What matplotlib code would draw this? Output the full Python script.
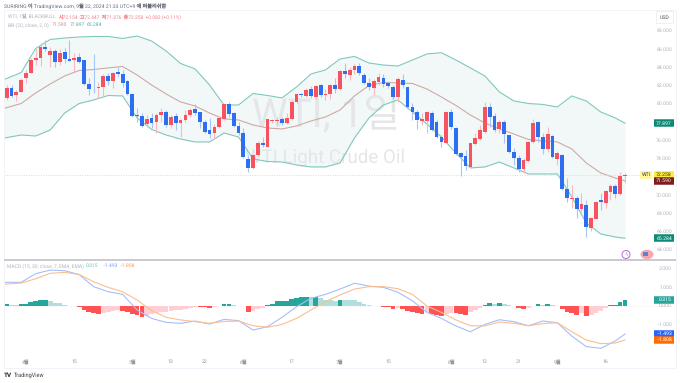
import matplotlib
matplotlib.use("Agg")
import matplotlib.pyplot as plt
from matplotlib.patches import Rectangle, Ellipse

plt.rcParams["font.family"] = ["Roboto", "Noto Sans CJK KR", "DejaVu Sans"]
plt.rcParams["text.hinting"] = "no_hinting"

# WTI daily candles
opens = [80.62, 81.79, 80.98, 81.28, 82.81, 83.43, 84.82, 85.08, 86.24, 85.37,
         85.81, 84.64, 85.73, 84.93, 84.86, 85.11, 84.78, 82.23, 81.86, 81.79,
         81.86, 83.10, 82.48, 83.50, 83.25, 82.48, 81.10, 78.79, 78.68, 77.77,
         78.47, 77.99, 78.83, 79.16, 77.70, 78.68, 77.95, 78.25, 78.79, 79.42,
         79.12, 78.03, 77.11, 76.79, 77.48, 78.32, 80.00, 79.05, 77.59, 76.79,
         74.00, 72.95, 74.41, 75.76, 75.32, 78.17, 78.17, 78.32, 77.88, 78.32,
         80.25, 81.09, 80.87, 81.60, 80.73, 82.04, 81.02, 81.06, 82.12, 81.64,
         83.58, 83.14, 83.69, 84.20, 83.21, 82.34, 81.72, 82.38, 82.90, 82.27,
         81.90, 80.73, 82.63, 81.90, 79.70, 79.12, 78.18, 78.17, 79.05, 78.00,
         76.42, 75.75, 79.13, 77.34, 74.60, 74.30, 73.14, 75.62, 76.13, 76.90,
         79.71, 78.69, 77.23, 78.06, 76.60, 74.77, 74.12, 72.84, 73.75, 75.87,
         78.02, 76.42, 75.03, 76.49, 73.97, 74.41, 70.65, 69.59, 69.73, 68.45,
         68.93, 66.44, 67.39, 69.48, 69.11, 70.39, 71.00, 70.10, 72.154]
closes = [81.72, 80.91, 81.35, 82.63, 83.43, 84.82, 85.08, 86.24, 85.99, 85.81,
          84.56, 85.55, 84.93, 84.75, 85.04, 84.64, 82.15, 81.64, 81.82, 81.90,
          83.10, 82.48, 83.40, 83.25, 82.30, 81.06, 78.68, 78.65, 77.63, 78.32,
          77.88, 78.76, 79.09, 77.66, 78.61, 77.88, 78.25, 78.79, 79.34, 78.98,
          77.99, 76.97, 76.68, 77.52, 78.43, 79.96, 78.87, 77.59, 76.86, 74.15,
          72.95, 74.41, 75.76, 75.47, 78.32, 78.25, 78.25, 77.88, 78.43, 80.25,
          81.09, 80.95, 81.53, 80.87, 81.97, 80.98, 81.13, 82.04, 81.64, 83.58,
          83.32, 83.72, 84.20, 83.36, 82.26, 81.86, 82.48, 82.99, 82.16, 82.00,
          80.73, 82.71, 82.08, 79.64, 79.09, 78.25, 78.32, 79.16, 77.15, 76.42,
          75.80, 79.16, 77.45, 74.52, 74.16, 73.20, 75.69, 76.31, 77.15, 79.71,
          78.62, 77.15, 78.06, 76.67, 74.77, 74.12, 72.84, 73.86, 75.87, 77.88,
          76.42, 75.03, 76.71, 74.23, 74.59, 70.65, 69.66, 69.73, 68.45, 69.04,
          66.48, 67.47, 69.30, 69.26, 70.50, 71.00, 70.13, 72.11, 72.258]
highs = [82.08, 82.08, 81.53, 82.81, 83.72, 85.00, 86.10, 86.65, 87.01, 86.28,
         86.03, 86.03, 86.10, 87.01, 85.55, 85.55, 84.82, 82.81, 85.44, 82.45,
         83.25, 83.36, 83.47, 84.09, 83.72, 82.63, 81.20, 79.52, 78.98, 78.79,
         78.98, 78.98, 79.52, 79.34, 78.79, 78.98, 78.32, 79.34, 79.52, 80.00,
         79.16, 78.25, 78.43, 77.81, 78.54, 80.00, 80.26, 79.16, 78.06, 77.33,
         74.41, 74.50, 75.90, 76.35, 78.40, 78.39, 78.54, 78.61, 78.97, 80.44,
         81.24, 81.24, 81.72, 81.97, 82.08, 82.19, 81.60, 82.19, 82.80, 83.72,
         84.53, 84.02, 84.38, 84.53, 83.36, 82.81, 82.70, 83.36, 83.30, 82.50,
         82.08, 82.93, 83.29, 81.90, 80.08, 79.35, 78.98, 79.27, 79.27, 78.25,
         76.60, 79.27, 79.42, 77.45, 74.78, 74.96, 75.77, 76.79, 77.70, 80.26,
         80.15, 78.98, 78.25, 78.24, 76.60, 75.14, 74.41, 74.12, 75.98, 78.32,
         78.17, 76.78, 77.44, 76.60, 74.88, 74.52, 71.85, 71.12, 69.92, 70.21,
         69.48, 67.65, 69.40, 70.21, 70.57, 71.23, 71.23, 72.58, 72.447]
lows = [80.44, 80.80, 80.33, 81.28, 82.26, 83.36, 84.27, 84.20, 85.84, 84.09,
        84.09, 84.27, 84.45, 84.71, 83.54, 84.45, 82.08, 80.98, 81.17, 80.62,
        80.80, 82.08, 81.79, 83.00, 81.90, 80.98, 78.60, 78.06, 77.52, 77.52,
        77.33, 76.79, 78.06, 77.52, 77.33, 77.15, 76.35, 78.06, 78.61, 78.79,
        77.33, 76.86, 76.24, 76.13, 77.33, 78.25, 78.61, 77.52, 76.60, 74.08,
        72.59, 72.90, 74.30, 75.32, 75.30, 77.88, 77.70, 77.70, 77.80, 78.25,
        80.07, 80.80, 80.73, 80.62, 80.51, 80.80, 80.44, 80.51, 81.17, 81.53,
        82.81, 82.63, 83.29, 83.18, 82.19, 81.53, 80.98, 82.08, 81.90, 81.70,
        80.55, 80.26, 81.72, 79.53, 78.25, 77.23, 77.70, 76.80, 77.08, 76.30,
        75.26, 75.69, 77.23, 74.41, 72.12, 72.77, 73.06, 75.51, 76.06, 76.79,
        77.52, 76.97, 76.80, 75.69, 74.59, 73.31, 72.58, 72.47, 73.68, 75.76,
        75.87, 74.52, 74.77, 74.04, 73.31, 70.57, 69.29, 68.56, 67.47, 68.20,
        65.46, 66.12, 67.36, 68.38, 68.56, 69.48, 69.66, 70.00, 71.376]

# indicator lines
line_bars = [-1, 3, 6, 9, 12, 15, 18, 21, 24, 27, 30, 33, 36, 39, 42, 45, 48, 51, 54, 57, 60, 63,
             66, 69, 72, 75, 78, 81, 84, 87, 90, 93, 96, 99, 102, 105, 108, 111, 114, 117, 120,
             123, 126, 128]
bb_upper = [82.58, 83.45, 86.08, 87.07, 87.23, 87.34, 87.40, 87.40, 87.18, 87.45, 86.90,
            85.81, 84.44, 83.84, 82.08, 79.89, 79.89, 81.15, 80.93, 80.66, 81.86, 83.29,
            83.73, 84.93, 85.21, 84.49, 84.27, 84.16, 84.82, 85.48, 85.62, 84.82, 83.95,
            83.07, 81.32, 80.33, 80.05, 79.95, 79.67, 80.88, 80.33, 79.12, 78.47, 77.897]
bb_mid = [79.45, 80.05, 81.21, 82.19, 83.07, 83.67, 83.78, 83.95, 84.11, 83.18, 82.08,
          81.10, 80.22, 79.78, 79.01, 78.36, 78.25, 77.70, 77.37, 77.26, 77.59, 78.14,
          78.58, 79.34, 80.88, 82.03, 82.36, 82.30, 82.25, 81.64, 80.77, 79.84, 78.79,
          77.92, 77.26, 76.71, 76.11, 75.95, 75.84, 75.07, 73.53, 72.44, 71.89, 71.59]
bb_lower = [76.22, 76.60, 76.49, 77.15, 79.01, 80.05, 80.44, 80.93, 80.88, 78.47, 77.21,
            76.60, 76.16, 75.84, 75.84, 76.82, 76.38, 73.97, 73.70, 73.64, 73.32, 73.10,
            73.10, 73.53, 76.27, 78.47, 79.89, 80.44, 79.12, 77.81, 76.38, 74.63, 72.99,
            73.10, 73.64, 72.99, 72.33, 72.33, 72.33, 69.81, 66.96, 65.75, 65.42, 65.284]
macd_line = [1.26, 1.26, 1.72, 1.91, 1.88, 1.67, 1.03, 0.76, 0.62, -0.21, -0.66, -0.87,
             -0.92, -0.80, -0.96, -0.71, -0.78, -1.28, -1.10, -0.60, -0.04, 0.41, 0.62,
             0.90, 1.21, 1.06, 0.99, 0.73, 0.28, -0.34, -0.66, -1.06, -1.37, -0.98, -0.73,
             -0.83, -1.05, -0.80, -0.89, -1.60, -2.16, -2.25, -1.86, -1.493]
signal_line = [1.15, 1.22, 1.45, 1.74, 1.79, 1.68, 1.29, 0.99, 0.76, 0.32, -0.25, -0.60,
               -0.74, -0.83, -0.92, -0.82, -0.80, -1.05, -1.13, -0.98, -0.66, -0.21, 0.23,
               0.59, 0.90, 1.03, 1.03, 0.92, 0.62, 0.00, -0.34, -0.74, -1.05, -1.06, -0.85,
               -0.92, -1.05, -0.94, -0.89, -1.37, -1.81, -2.00, -1.97, -1.808]
macd_hist = [0.11, 0.05, 0.035, 0.09, 0.12, 0.20, 0.25, 0.30, 0.31, 0.25,
             0.18, 0.14, 0.07, 0.02, -0.02, -0.05, -0.21, -0.34, -0.39, -0.43,
             -0.35, -0.32, -0.27, -0.21, -0.25, -0.32, -0.44, -0.50, -0.58, -0.51,
             -0.44, -0.39, -0.34, -0.30, -0.27, -0.23, -0.20, -0.14, -0.09, -0.03,
             -0.04, -0.05, -0.11, -0.05, -0.02, 0.09, 0.12, 0.05, 0.02, -0.02,
             -0.30, -0.25, -0.18, -0.09, 0.03, 0.12, 0.25, 0.26, 0.27, 0.37,
             0.44, 0.46, 0.48, 0.46, 0.48, 0.41, 0.34, 0.30, 0.29, 0.33,
             0.32, 0.31, 0.30, 0.23, 0.12, 0.05, 0.02, -0.02, -0.04, -0.05,
             -0.16, -0.12, -0.16, -0.27, -0.32, -0.39, -0.43, -0.34, -0.44, -0.48,
             -0.51, -0.42, -0.38, -0.39, -0.44, -0.48, -0.34, -0.23, -0.12, 0.05,
             0.16, 0.09, 0.16, 0.12, 0.05, 0.01, -0.12, -0.18, -0.09, 0.02,
             0.09, 0.05, 0.12, 0.04, -0.01, -0.16, -0.30, -0.37, -0.46, -0.35,
             -0.55, -0.48, -0.35, -0.27, -0.12, 0.04, 0.07, 0.21, 0.315]

date_bars = [4, 14, 26, 34, 41, 49, 59, 69, 79, 92, 99, 106, 114, 124]
date_labels = ["4월", "15", "5월", "13", "22", "6월", "17", "7월", "15", "8월", "12", "21", "9월", "16"]
price_ticks = [64, 66, 68, 70, 74, 76, 80, 82, 84, 86, 88]
macd_ticks = [2, 1, 0, -1]

W, H = 680, 383
UP, DOWN = "#f7525f", "#2e6ff2"
UP_WICK, DOWN_WICK = "#f8b9bf", "#a9c4f8"
LABEL = "#b2b5be"
XLIM = (-0.56, 138.57)
TICK_SIZE = 3.7


def px_axes(left, top, right, bottom):
    return fig.add_axes([left / W, 1 - bottom / H, (right - left) / W, (bottom - top) / H])


def tag(ax, y, text, bg, fg="white"):
    ax.text(0.994, y, text, transform=ax.get_yaxis_transform(), ha="right", va="center",
            fontsize=TICK_SIZE, color=fg, zorder=10, clip_on=False)
    ax.plot([0.9673, 0.997], [y, y], transform=ax.get_yaxis_transform(), color=bg, lw=5.4,
            solid_capstyle="butt", zorder=9, clip_on=False)


fig = plt.figure(figsize=(W / 100, H / 100), dpi=100, facecolor="white")

# price panel
ax = px_axes(4, 10, 676, 259)
ax.set_xlim(*XLIM)
ax.set_ylim(63.01, 90.30)
ax.fill_between(line_bars, bb_lower, bb_upper, color="#f2f8f8", lw=0, zorder=1)
ax.plot(line_bars, bb_upper, color="#80c8bd", lw=0.8, zorder=2)
ax.plot(line_bars, bb_lower, color="#80c8bd", lw=0.8, zorder=2)
ax.plot(line_bars, bb_mid, color="#cfa9a4", lw=0.8, zorder=2)
ax.axhline(closes[-1], color="#f7e463", lw=0.7, ls=(0, (1, 1.5)), zorder=2)

for i in range(len(opens)):
    rising = closes[i] >= opens[i]
    ax.vlines(i, lows[i], highs[i], color=UP_WICK if rising else DOWN_WICK, lw=0.8, zorder=3)
    bottom = min(opens[i], closes[i])
    ax.bar(i, max(abs(closes[i] - opens[i]), 0.08), 0.78, bottom, color=UP if rising else DOWN,
           lw=0, zorder=4)

# watermark
ax.text(0.369, 0.574, "WTI, 1일", transform=ax.transAxes, fontsize=29, color="#e4e6e8",
        ha="left", va="center", zorder=1.5)
ax.text(0.359, 0.405, "WTI Light Crude Oil", transform=ax.transAxes, fontsize=13.5, color="#e4e6e8",
        ha="left", va="center", zorder=1.5)

for p in price_ticks:
    ax.text(0.994, p, f"{p:.3f}", transform=ax.get_yaxis_transform(), ha="right", va="center",
            fontsize=TICK_SIZE, color=LABEL)
ax.set_xticks([])
ax.set_yticks([])
for s in ax.spines.values():
    s.set_visible(False)

tag(ax, bb_upper[-1], f"{bb_upper[-1]:.3f}", "#0c8a75")
tag(ax, bb_lower[-1], f"{bb_lower[-1]:.3f}", "#0c8a75")
tag(ax, closes[-1], f"{closes[-1]:.3f}", "#ffeb3b", "#333333")
tag(ax, bb_mid[-1], f"{bb_mid[-1]:.3f}", "#7f1d1d")
ax.text(0.9555, closes[-1], "WTI", transform=ax.get_yaxis_transform(), ha="center", va="center",
        fontsize=TICK_SIZE, color="#333333", zorder=11, clip_on=False,
        bbox=dict(fc="#fff59d", ec="none", pad=1.2))

# macd panel
ax2 = px_axes(4, 261, 676, 354)
ax2.set_xlim(*XLIM)
ax2.set_ylim(-2.553, 2.394)
ax2.axhline(0, color="#dddddd", lw=0.5, ls=(0, (1, 3)), zorder=1)
for i, v in enumerate(macd_hist):
    prev = macd_hist[i - 1] if i else 0
    if v >= 0:
        c = "#26a69a" if v >= prev else "#b2dfdb"
    else:
        c = "#ff5252" if v <= prev else "#ffcdd2"
    ax2.bar(i, v, 0.98, color=c, lw=0, zorder=2)
ax2.plot(line_bars, macd_line, color="#a5bffa", lw=0.8, zorder=3)
ax2.plot(line_bars, signal_line, color="#fbbf8f", lw=0.8, zorder=3)

for m in macd_ticks:
    ax2.text(0.994, m, f"{m:.3f}".replace("-", "\u2212"), transform=ax2.get_yaxis_transform(),
             ha="right", va="center", fontsize=TICK_SIZE, color=LABEL)
tag(ax2, macd_hist[-1], f"{macd_hist[-1]:.3f}", "#26a69a")
tag(ax2, macd_line[-1], f"\u2212{abs(macd_line[-1]):.3f}", "#2962ff")
tag(ax2, signal_line[-1], f"\u2212{abs(signal_line[-1]):.3f}", "#ff6d00")

ax2.set_xticks(date_bars)
ax2.set_xticklabels(date_labels, fontsize=TICK_SIZE, color="#9598a1")
ax2.set_yticks([])
ax2.tick_params(axis="x", length=0, pad=4)
for s in ax2.spines.values():
    s.set_visible(False)

# panel frame
fig.add_artist(Rectangle((4 / W, 1 - 368 / H), 672 / W, 358 / H, fc="none", ec="#f0f3fa", lw=0.7))
fig.add_artist(Rectangle((4 / W, 1 - 261 / H), 672 / W, 2 / H, fc="#c9cbd1", ec="none"))


def put(x, y, s, color, size=3.6, **kw):
    return fig.text(x / W, 1 - y / H, s, color=color, fontsize=size, va="center", ha="left", **kw)


put(4, 6, "SURIRING 이 TradingView.com, 9월 22, 2024 21:33 UTC+9 에 퍼블리쉬함", "#6a6d78", 3.7)

put(8, 17, "WTI, 1일, BLACKBULL", "#b2b5be")
ohlc = "시72.154  고72.447  저71.376  종72.258  +0.082 (+0.11%)"
put(58, 17, ohlc, "#f3818b", 3.55)
put(8, 25, "BB (20, close, 2, 0)", "#b2b5be")
put(52, 25, f"{bb_mid[-1]:.3f}", "#c98f89")
put(70, 25, f"{bb_upper[-1]:.3f}", "#4fb3a4")
put(87, 25, f"{bb_lower[-1]:.3f}", "#4fb3a4")

put(7, 266, "MACD (15, 30, close, 7, EMA, EMA)", "#b2b5be")
put(86, 266, f"{macd_hist[-1]:.3f}", "#62c1b7")
put(103, 266, f"\u2212{abs(macd_line[-1]):.3f}", "#7b9ff5")
put(120, 266, f"\u2212{abs(signal_line[-1]):.3f}", "#fb9b55")

# USD button
fig.add_artist(Rectangle((656 / W, 1 - 23 / H), 17 / W, 12 / H, fc="white", ec="#eeeef0", lw=0.6))
fig.text(664.5 / W, 1 - 17.5 / H, "USD", fontsize=TICK_SIZE, color="#555555", ha="center", va="center")

# icons near the time axis
fig.add_artist(Ellipse((626 / W, 1 - 254.5 / H), 8 / W, 8 / H, fc="white", ec="#b66fd6", lw=0.7))
fig.text(626 / W, 1 - 254.5 / H, "ϟ", fontsize=3.8, color="#b66fd6", ha="center", va="center",
         family="DejaVu Sans")
fig.add_artist(Ellipse((647 / W, 1 - 254.5 / H), 13 / W, 9.5 / H, fc="#f6a8ae", ec="none"))
fig.add_artist(Rectangle((643 / W, 1 - 256 / H), 5 / W, 4 / H, fc="#5d83d8", ec="none"))

# footer
put(4, 375.5, "TV", "#222222", 4.6, fontweight="bold")
put(14, 375.5, "TradingView", "#444444", 4)

fig.savefig("out.png", dpi=100)
